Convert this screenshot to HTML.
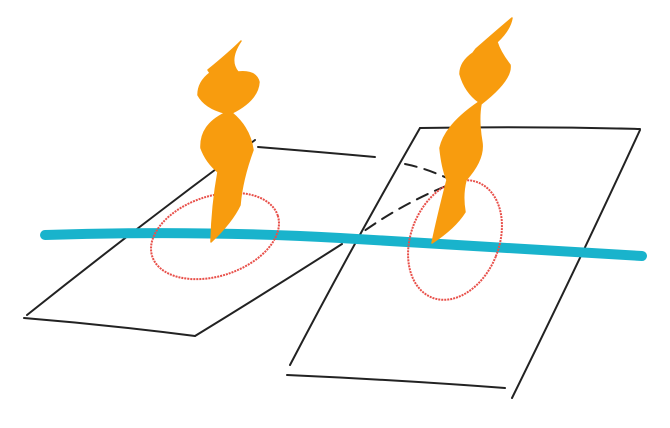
<!DOCTYPE html>
<html><head><meta charset="utf-8"><style>
html,body{margin:0;padding:0;background:#fff;width:670px;height:428px;overflow:hidden}
svg{display:block}
</style></head><body>
<svg width="670" height="428" viewBox="0 0 670 428">
<g fill="none" stroke="#222" stroke-width="2" stroke-linecap="round" stroke-linejoin="round">
  <g>
    <path d="M258 147 Q320 152 375 157" />
    <path d="M255 140 Q140 225 27 315" />
    <path d="M24 318 Q110 325 195 336" />
    <path d="M195 336 Q270 290 342 244" />
  </g>
  <g>
    <path d="M420 128 Q530 126 640 129" />
    <path d="M420 128 Q350 250 290 365" />
    <path d="M640 130 Q580 260 512 398" />
    <path d="M287 375 Q400 380 505 388" />
  </g>
  <g stroke-dasharray="12 8">
    <path d="M405 164 Q425 168 447 178" />
    <path d="M446 186 Q400 205 360 234" />
  </g>
</g>
<path d="M45 235 Q200 230 340 238 T642 256" fill="none" stroke="#19b3cc" stroke-width="10" stroke-linecap="round"/>
<ellipse cx="215" cy="236" rx="66" ry="40" transform="rotate(-18 215 236)" fill="none" stroke="#e8504a" stroke-width="2" stroke-dasharray="2 1"/>
<ellipse cx="455" cy="240" rx="44" ry="62" transform="rotate(22 455 240)" fill="none" stroke="#e8504a" stroke-width="2" stroke-dasharray="2 1"/>
<path fill="#f89c0e" stroke="#f89c0e" stroke-width="1.5" stroke-linejoin="round"
 d="M241 41 Q230 52 208 70 L210 73 Q198 82 198 95 Q205 108 225 113 Q200 125 201 148 Q206 162 218 172 Q212 205 211 242 Q232 222 240 205 Q242 180 253 150 Q250 128 232 113 Q258 100 259 82 Q256 70 238 72 Q228 60 241 41 Z"/>
<path fill="#f89c0e" stroke="#f89c0e" stroke-width="1.5" stroke-linejoin="round"
 d="M512 18 Q500 28 476 49 L473 53 Q460 62 460 74 Q465 92 479 102 Q445 125 440 148 Q442 168 447 180 Q438 215 432 243 Q455 228 465 212 Q462 195 466 180 Q484 160 482 143 Q478 120 481 104 Q512 80 510 65 Q500 52 497 42 Q510 30 512 18 Z"/>
</svg>
</body></html>
